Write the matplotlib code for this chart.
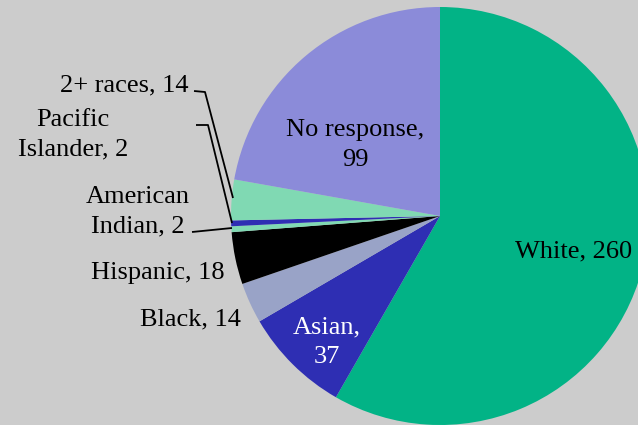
import matplotlib.pyplot as plt

# data
groups = ['White', 'Asian', 'Black', 'Hispanic', 'American Indian',
          'Pacific Islander', '2+ races', 'No response']
counts = [260, 37, 14, 18, 2, 2, 14, 99]
colors = ['#02b386', '#2e2eb3', '#99a3c7', '#000000', '#80d9b3',
          '#2e2eb3', '#80d9b3', '#8b8bd9']

W, H = 638, 425
fig = plt.figure(figsize=(W / 100, H / 100), dpi=100)
fig.patch.set_facecolor('#cccccc')
ax = fig.add_axes([0, 0, 1, 1])
ax.set_facecolor('#cccccc')

cx, cy, r = 440, H - 216, 209
ax.pie(counts, colors=colors, startangle=90, counterclock=False,
       center=(cx, cy), radius=r, frame=True,
       wedgeprops=dict(linewidth=0))
ax.set_xlim(0, W)
ax.set_ylim(0, H)
ax.set_aspect('equal')
ax.axis('off')

plt.rcParams['font.family'] = ['Liberation Serif', 'DejaVu Serif']
fs = 19

def lab(x, y, s, ha='center', color='black'):
    ax.text(x, H - y, s, ha=ha, va='center', fontsize=fs, color=color,
            multialignment='center', linespacing=1.45)

lab(355, 145, 'No response,\n99')
lab(574, 251, 'White, %d' % counts[0])
lab(327, 342, 'Asian,\n%d' % counts[1], color='white')
lab(241, 319, 'Black, %d' % counts[2], ha='right')
lab(225, 273, 'Hispanic, %d' % counts[3], ha='right')
lab(138, 212, 'American\nIndian, %d' % counts[4])
lab(73, 135, 'Pacific\nIslander, %d' % counts[5])
lab(189, 85, '2+ races, %d' % counts[6], ha='right')

# leader lines
def leader(pts):
    xs = [p[0] for p in pts]
    ys = [H - p[1] for p in pts]
    ax.plot(xs, ys, color='black', lw=1.3, solid_capstyle='butt')

leader([(194, 91), (205, 92), (233, 198)])
leader([(196, 125), (208, 125), (232, 223)])
leader([(192, 232), (232, 228)])

fig.savefig('out.png', dpi=100, facecolor=fig.get_facecolor())
